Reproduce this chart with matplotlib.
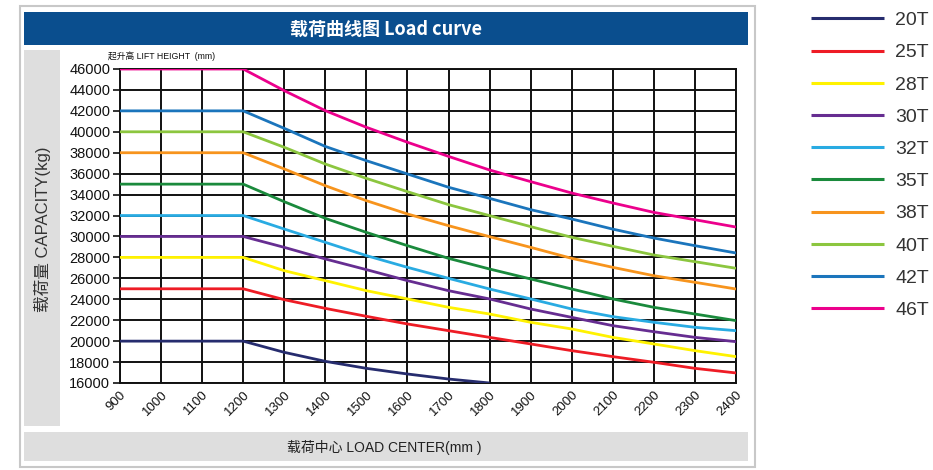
import matplotlib
matplotlib.use("Agg")
import matplotlib.pyplot as plt
from matplotlib.patches import Rectangle

plt.rcParams['font.family'] = ['Liberation Sans', 'Noto Sans CJK SC', 'DejaVu Sans']

load_center = [900, 1000, 1100, 1200, 1300, 1400, 1500, 1600, 1700, 1800, 1900, 2000, 2100, 2200, 2300, 2400]
series_names = ["20T", "25T", "28T", "30T", "32T", "35T", "38T", "40T", "42T", "46T"]
cap_20T = [20000, 20000, 20000, 20000, 18930, 18070, 17400, 16860, 16380, 16000]
cap_25T = [25000, 25000, 25000, 25000, 23960, 23130, 22370, 21640, 21000, 20360, 19730, 19090, 18520, 17980, 17400, 16960]
cap_28T = [28000, 28000, 28000, 28000, 26730, 25780, 24820, 24030, 23230, 22590, 21800, 21160, 20360, 19730, 19090, 18520]
cap_30T = [30000, 30000, 30000, 30000, 28960, 27850, 26830, 25780, 24820, 24030, 23070, 22270, 21480, 20900, 20360, 19950]
cap_32T = [32000, 32000, 32000, 32000, 30710, 29440, 28170, 27050, 26000, 24980, 24030, 23070, 22340, 21800, 21320, 21000]
cap_35T = [35000, 35000, 35000, 35000, 33320, 31730, 30390, 29120, 27910, 26890, 25940, 24980, 24030, 23230, 22590, 21960]
cap_38T = [38000, 38000, 38000, 38000, 36450, 34850, 33420, 32150, 31030, 29980, 28960, 27910, 27050, 26250, 25620, 24980]
cap_40T = [40000, 40000, 40000, 40000, 38520, 36920, 35550, 34280, 33040, 31990, 30940, 29920, 29060, 28230, 27590, 26960]
cap_42T = [42000, 42000, 42000, 42000, 40330, 38600, 37240, 35970, 34700, 33640, 32560, 31670, 30700, 29850, 29120, 28420]
cap_46T = [46000, 46000, 46000, 46000, 43930, 42020, 40430, 39000, 37650, 36350, 35240, 34150, 33200, 32300, 31600, 30900]
series_values = [cap_20T, cap_25T, cap_28T, cap_30T, cap_32T, cap_35T, cap_38T, cap_40T, cap_42T, cap_46T]
series_colors = ["#262c6e", "#ee1c25", "#fff200", "#662d91", "#29abe2",
                 "#1a8a3c", "#f7941d", "#8cc63f", "#1b75bc", "#ec008c"]
y_ticks = list(range(16000, 46001, 2000))

W, H = 933, 470
fig = plt.figure(figsize=(W / 100, H / 100), dpi=100)

def fx(px):
    return px / W

def fy(py):
    return 1 - py / H

# frame and decorations
fig.patches.append(Rectangle((fx(20), fy(467)), fx(755) - fx(20), fy(6) - fy(467),
                             transform=fig.transFigure, facecolor='white',
                             edgecolor='#c8c8c8', linewidth=1.5, zorder=0))
fig.patches.append(Rectangle((fx(24), fy(45)), fx(748) - fx(24), fy(12) - fy(45),
                             transform=fig.transFigure, facecolor='#0a4e8e',
                             edgecolor='none', zorder=1))
fig.patches.append(Rectangle((fx(24), fy(426)), fx(60) - fx(24), fy(50) - fy(426),
                             transform=fig.transFigure, facecolor='#dedede',
                             edgecolor='none', zorder=1))
fig.patches.append(Rectangle((fx(24), fy(461)), fx(748) - fx(24), fy(432) - fy(461),
                             transform=fig.transFigure, facecolor='#dedede',
                             edgecolor='none', zorder=1))

fig.text(fx(386), fy(29), "载荷曲线图 Load curve", color='white', fontsize=13,
         fontweight='bold', ha='center', va='center',
         family=['Noto Sans CJK SC', 'DejaVu Sans'])
fig.text(fx(42), fy(229), "载荷量 CAPACITY(kg)", color='#333333', fontsize=12,
         rotation=90, ha='center', va='center',
         family=['Liberation Sans', 'Noto Sans CJK SC'])
fig.text(fx(384), fy(447), "载荷中心 LOAD CENTER(mm )", color='#222222', fontsize=10,
         ha='center', va='center', family=['Liberation Sans', 'Noto Sans CJK SC'])
fig.text(fx(108), fy(56), "起升高 LIFT HEIGHT  (mm)", color='#111111', fontsize=6.3,
         ha='left', va='center', family=['Liberation Sans', 'Noto Sans CJK SC'])

ax = fig.add_axes([fx(120), fy(383), fx(736) - fx(120), fy(69) - fy(383)])
ax.set_zorder(2)
for name, vals, col in zip(series_names, series_values, series_colors):
    ax.plot(load_center[:len(vals)], vals, color=col, linewidth=2.0, label=name,
            solid_capstyle='butt', zorder=3)

ax.set_xlim(900, 2400)
ax.set_ylim(16000, 46000)
ax.set_xticks(load_center)
ax.set_yticks(y_ticks)
ax.set_xticklabels([str(v) for v in load_center], rotation=45, fontsize=9.5,
                   ha='right', va='top', rotation_mode='anchor')
ax.set_yticklabels([str(v) for v in y_ticks], fontsize=10.5)
ax.grid(True, color='#111111', linewidth=1.4, zorder=1)
ax.set_axisbelow(True)
ax.tick_params(axis='y', direction='out', length=5, width=1.2, color='#111111',
               labelcolor='#111111', pad=2)
ax.tick_params(axis='x', direction='out', length=0, labelcolor='#111111', pad=4)
for s in ax.spines.values():
    s.set_color('#111111')
    s.set_linewidth(1.4)

handles, labels = ax.get_legend_handles_labels()
leg = fig.legend(handles, labels, loc='upper left', bbox_to_anchor=(fx(797), fy(-2)),
                 frameon=False, fontsize=14, handlelength=3.75, handletextpad=0.6,
                 labelspacing=0.75, borderpad=0.2, labelcolor='#333333')
for line in leg.get_lines():
    line.set_linewidth(2.2)

fig.savefig("out.png", dpi=100)
